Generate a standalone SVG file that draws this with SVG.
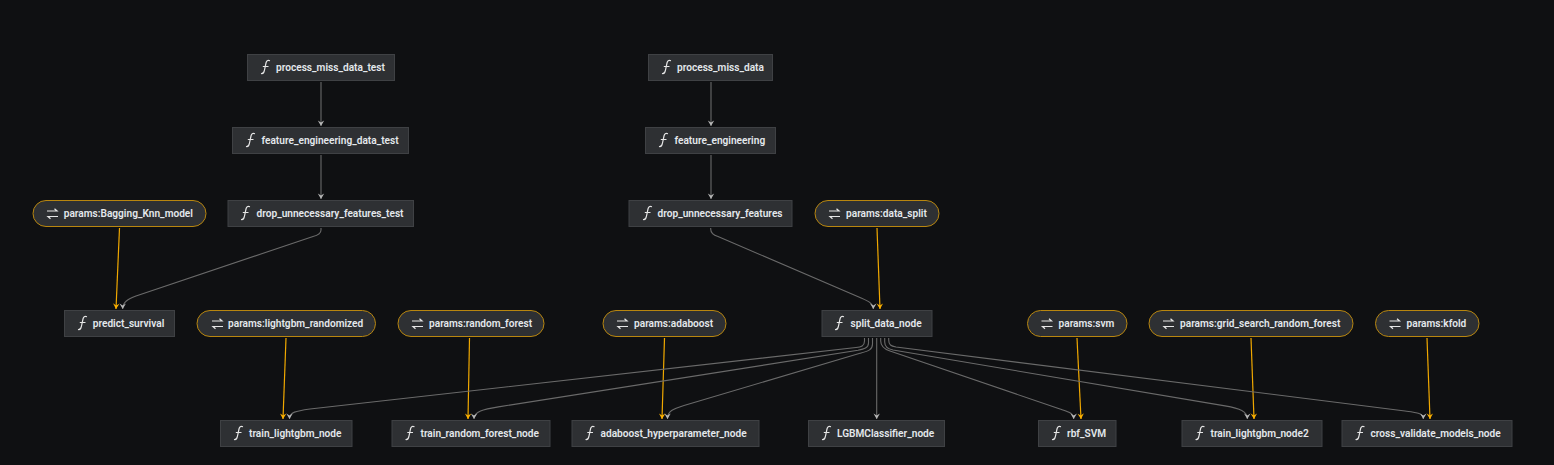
<svg xmlns="http://www.w3.org/2000/svg" xmlns:xlink="http://www.w3.org/1999/xlink" width="1554" height="465" viewBox="0 0 1554 465">
<style>
text{font-family:"Roboto","Liberation Sans",sans-serif;font-size:10.150px;font-weight:600;fill:#e4e8ec}
.n{fill:#2e3033;stroke:#3f4144;stroke-width:1}
.p{fill:#2e3033;stroke:#b8860f;stroke-width:1}
.e{fill:none;stroke:#6a6a6a;stroke-width:1.100;marker-end:url(#g)}
.y{fill:none;stroke:#f0a800;stroke-width:1.200;marker-end:url(#o)}
.i{fill:none;stroke:#e6e6e6;stroke-width:1.200}
</style>
<defs>
<marker id="g" markerUnits="userSpaceOnUse" markerWidth="8" markerHeight="8" refX="6.500" refY="4" orient="auto"><path d="M1 .8 L6.500 4 L1 7.200 L3 4Z" fill="#b8b8b8"/></marker>
<marker id="o" markerUnits="userSpaceOnUse" markerWidth="8" markerHeight="8" refX="6.500" refY="4" orient="auto"><path d="M1 .8 L6.500 4 L1 7.200 L3 4Z" fill="#ffb300"/></marker>
<g id="f"><path class="i" d="M0 13.500 C2.500 14 3 12.500 3.500 10 L5 3 C5.500 .5 6.500 0 9 .8 M1.800 6.500 H7.500"/></g>
<g id="s"><path class="i" d="M0 3 H10 M7.500 .8 L10 3 L7.500 3 M11 8.500 H1 M3.500 10.700 L1 8.500 L3.500 8.500"/></g>
</defs>
<rect width="1554" height="465" fill="#0f1012"/>
<g id="connectors">
<path class="e" d="M321 82V126"/>
<path class="e" d="M321 155V199"/>
<path class="e" d="M711 82V126"/>
<path class="e" d="M711 155V199"/>
<path class="e" d="M321 228V230C321 234 317 235.500 313 236.500L136 296C128 299 122.700 302 122.700 309"/>
<path class="e" d="M710.700 228V229C710.700 233 713 235 718 236.500L860 297.500C868 301 873.300 303 873.300 309"/>
<path class="y" d="M119.500 228L116 309"/>
<path class="y" d="M877 228L880 309"/>
<path class="y" d="M286 338L283 419"/>
<path class="y" d="M469.500 338L468 419"/>
<path class="y" d="M664.500 338L662 419"/>
<path class="y" d="M1077 338L1081 419"/>
<path class="y" d="M1251 338L1254 419"/>
<path class="y" d="M1427 338L1430 419"/>
<path class="e" d="M864.500 338V341C864.500 346 861 347 856 347.500L310 409C296 411 289.500 412 289.500 419"/>
<path class="e" d="M868.500 338V343C868.500 348 864 349 858 350.300L500 406.600C483 409.500 474 411 474 419"/>
<path class="e" d="M872.500 338V344C872.500 350 868 351 860 353.300L684 405.500C673 409 667.500 411 667.500 419"/>
<path class="e" d="M876.700 338V419"/>
<path class="e" d="M880.700 338V341C880.700 346 884 349 890 351L1060 409C1069 412 1073.700 413 1073.700 419"/>
<path class="e" d="M884.700 338V342C884.700 347 888 349 893 350L1225 405.900C1240 408.500 1247.300 411 1247.300 419"/>
<path class="e" d="M888.700 338V340C888.700 345 891 346 896 347L1405 411C1417 412.500 1423.300 413 1423.300 419"/>
</g>
<g id="node-process_miss_data_test"><rect class="n" x="247.500" y="54.500" width="147" height="26"/><use href="#f" x="261" y="60"/><text x="276" y="71">process_miss_data_test</text></g>
<g id="node-feature_engineering_data_test"><rect class="n" x="232.500" y="127.500" width="176" height="26"/><use href="#f" x="246" y="133"/><text x="261.500" y="144">feature_engineering_data_test</text></g>
<g id="node-drop_unnecessary_features_test"><rect class="n" x="228" y="200.500" width="185.500" height="26"/><use href="#f" x="241" y="206"/><text x="256.500" y="217">drop_unnecessary_features_test</text></g>
<g id="node-params-Bagging_Knn_model"><rect class="p" x="33" y="200.500" width="173" height="26" rx="13"/><use href="#s" x="47" y="208"/><text x="63.700" y="217">params:Bagging_Knn_model</text></g>
<g id="node-process_miss_data"><rect class="n" x="648.500" y="54.500" width="124" height="26"/><use href="#f" x="662" y="60"/><text x="677" y="71">process_miss_data</text></g>
<g id="node-feature_engineering"><rect class="n" x="645.500" y="127.500" width="130" height="26"/><use href="#f" x="659" y="133"/><text x="674.500" y="144">feature_engineering</text></g>
<g id="node-drop_unnecessary_features"><rect class="n" x="629" y="200.500" width="163" height="26"/><use href="#f" x="643" y="206"/><text x="657.500" y="217">drop_unnecessary_features</text></g>
<g id="node-params-data_split"><rect class="p" x="815" y="200.500" width="124" height="26" rx="13"/><use href="#s" x="829" y="208"/><text x="846" y="217">params:data_split</text></g>
<g id="node-predict_survival"><rect class="n" x="64.500" y="310.500" width="110" height="26"/><use href="#f" x="78" y="316"/><text x="92.700" y="327">predict_survival</text></g>
<g id="node-params-lightgbm_randomized"><rect class="p" x="197" y="310.500" width="178.500" height="26" rx="13"/><use href="#s" x="212" y="318"/><text x="228" y="327">params:lightgbm_randomized</text></g>
<g id="node-params-random_forest"><rect class="p" x="398" y="310.500" width="146" height="26" rx="13"/><use href="#s" x="412" y="318"/><text x="429" y="327">params:random_forest</text></g>
<g id="node-params-adaboost"><rect class="p" x="603" y="310.500" width="123" height="26" rx="13"/><use href="#s" x="617" y="318"/><text x="634" y="327">params:adaboost</text></g>
<g id="node-split_data_node"><rect class="n" x="822" y="310.500" width="110" height="26"/><use href="#f" x="835" y="316"/><text x="850.500" y="327">split_data_node</text></g>
<g id="node-params-svm"><rect class="p" x="1027.500" y="310.500" width="99.500" height="26" rx="13"/><use href="#s" x="1041.500" y="318"/><text x="1058.500" y="327">params:svm</text></g>
<g id="node-params-grid_search_random_forest"><rect class="p" x="1149" y="310.500" width="204" height="26" rx="13"/><use href="#s" x="1163" y="318"/><text x="1180" y="327">params:grid_search_random_forest</text></g>
<g id="node-params-kfold"><rect class="p" x="1375.500" y="310.500" width="103.500" height="26" rx="13"/><use href="#s" x="1389.500" y="318"/><text x="1406.500" y="327">params:kfold</text></g>
<g id="node-train_lightgbm_node"><rect class="n" x="220.500" y="420.500" width="131.500" height="26"/><use href="#f" x="234" y="426"/><text x="249" y="437">train_lightgbm_node</text></g>
<g id="node-train_random_forest_node"><rect class="n" x="392" y="420.500" width="158" height="26"/><use href="#f" x="405.500" y="426"/><text x="420.500" y="437">train_random_forest_node</text></g>
<g id="node-adaboost_hyperparameter_node"><rect class="n" x="572" y="420.500" width="187" height="26"/><use href="#f" x="585.500" y="426"/><text x="600.500" y="437">adaboost_hyperparameter_node</text></g>
<g id="node-LGBMClassifier_node"><rect class="n" x="808.500" y="420.500" width="136" height="26"/><use href="#f" x="822" y="426"/><text x="837" y="437">LGBMClassifier_node</text></g>
<g id="node-rbf_SVM"><rect class="n" x="1038.500" y="420.500" width="77.500" height="26"/><use href="#f" x="1052" y="426"/><text x="1067" y="437">rbf_SVM</text></g>
<g id="node-train_lightgbm_node2"><rect class="n" x="1182" y="420.500" width="140" height="26"/><use href="#f" x="1195.500" y="426"/><text x="1210.500" y="437">train_lightgbm_node2</text></g>
<g id="node-cross_validate_models_node"><rect class="n" x="1342" y="420.500" width="170" height="26"/><use href="#f" x="1355.500" y="426"/><text x="1370.500" y="437">cross_validate_models_node</text></g>
</svg>
